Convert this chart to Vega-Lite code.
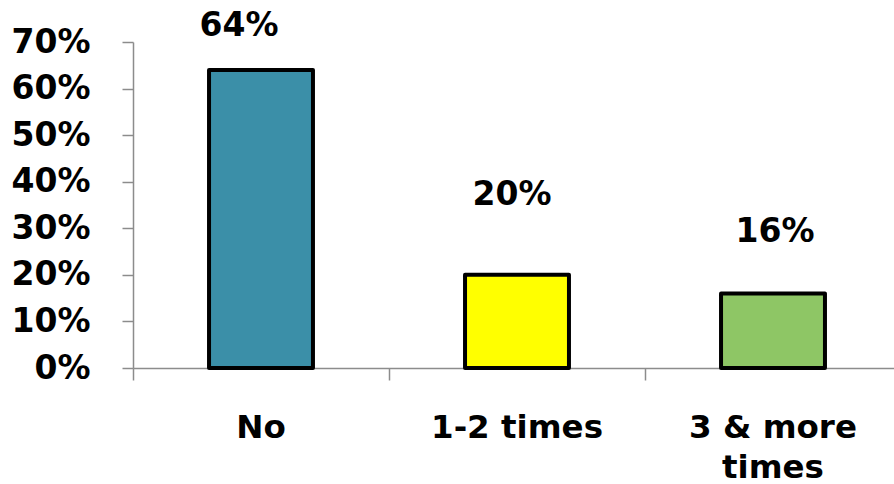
{
  "$schema": "https://vega.github.io/schema/vega-lite/v6.json",
  "width": 761,
  "height": 326,
  "autosize": {"type": "none"},
  "padding": {"left": 133, "top": 42, "right": 0, "bottom": 116},
  "background": "white",
  "config": {"view": {"stroke": null}, "font": "DejaVu Sans"},
  "data": {"values": [
    {"cat": "No", "pct": 0.64, "label": "64%"},
    {"cat": "1-2 times", "pct": 0.20, "label": "20%"},
    {"cat": "3 & more times", "pct": 0.16, "label": "16%"}
  ]},
  "encoding": {
    "x": {"field": "cat", "type": "nominal", "sort": null,
      "scale": {"paddingInner": 0, "paddingOuter": 0, "range": [0, 768]},
      "axis": {"title": null, "labelAngle": 0, "bandPosition": 0, "domainColor": "#8c8c8c", "domainWidth": 1.5,
        "tickColor": "#8c8c8c", "tickSize": 12, "tickWidth": 1.5, "labelFont": "DejaVu Sans", "labelFontWeight": "bold",
        "labelFontSize": 32.5, "labelColor": "black", "labelPadding": 31, "labelLineHeight": 40,
        "labelExpr": "datum.value == '3 & more times' ? ['3 & more', 'times'] : datum.value"}},
    "y": {"field": "pct", "type": "quantitative",
      "scale": {"domain": [0, 0.7], "nice": false},
      "axis": {"title": null, "values": [0, 0.1, 0.2, 0.3, 0.4, 0.5, 0.6, 0.7], "format": ".0%", "grid": false,
        "domainColor": "#8c8c8c", "domainWidth": 1.5, "tickColor": "#8c8c8c", "tickSize": 11, "tickWidth": 1.5,
        "labelFont": "DejaVu Sans", "labelFontWeight": "bold", "labelFontSize": 33, "labelColor": "black", "labelPadding": 32}}
  },
  "layer": [
    {"mark": {"type": "bar", "width": {"band": 0.406}, "stroke": "black", "strokeWidth": 4, "strokeJoin": "round"},
     "encoding": {"color": {"field": "cat", "type": "nominal", "sort": null, "legend": null,
       "scale": {"domain": ["No", "1-2 times", "3 & more times"], "range": ["#3b8fa8", "#ffff00", "#8ec665"]}}}},
    {"transform": [{"filter": "datum.cat == 'No'"}],
     "mark": {"type": "text", "baseline": "middle", "dy": -44, "dx": -22, "fontSize": 33, "fontWeight": "bold", "font": "DejaVu Sans", "color": "black"},
     "encoding": {"text": {"field": "label"}}},
    {"transform": [{"filter": "datum.cat == '1-2 times'"}],
     "mark": {"type": "text", "baseline": "middle", "dy": -80, "dx": -5, "fontSize": 33, "fontWeight": "bold", "font": "DejaVu Sans", "color": "black"},
     "encoding": {"text": {"field": "label"}}},
    {"transform": [{"filter": "datum.cat == '3 & more times'"}],
     "mark": {"type": "text", "baseline": "middle", "dy": -61, "dx": 2, "fontSize": 33, "fontWeight": "bold", "font": "DejaVu Sans", "color": "black"},
     "encoding": {"text": {"field": "label"}}}
  ]
}
